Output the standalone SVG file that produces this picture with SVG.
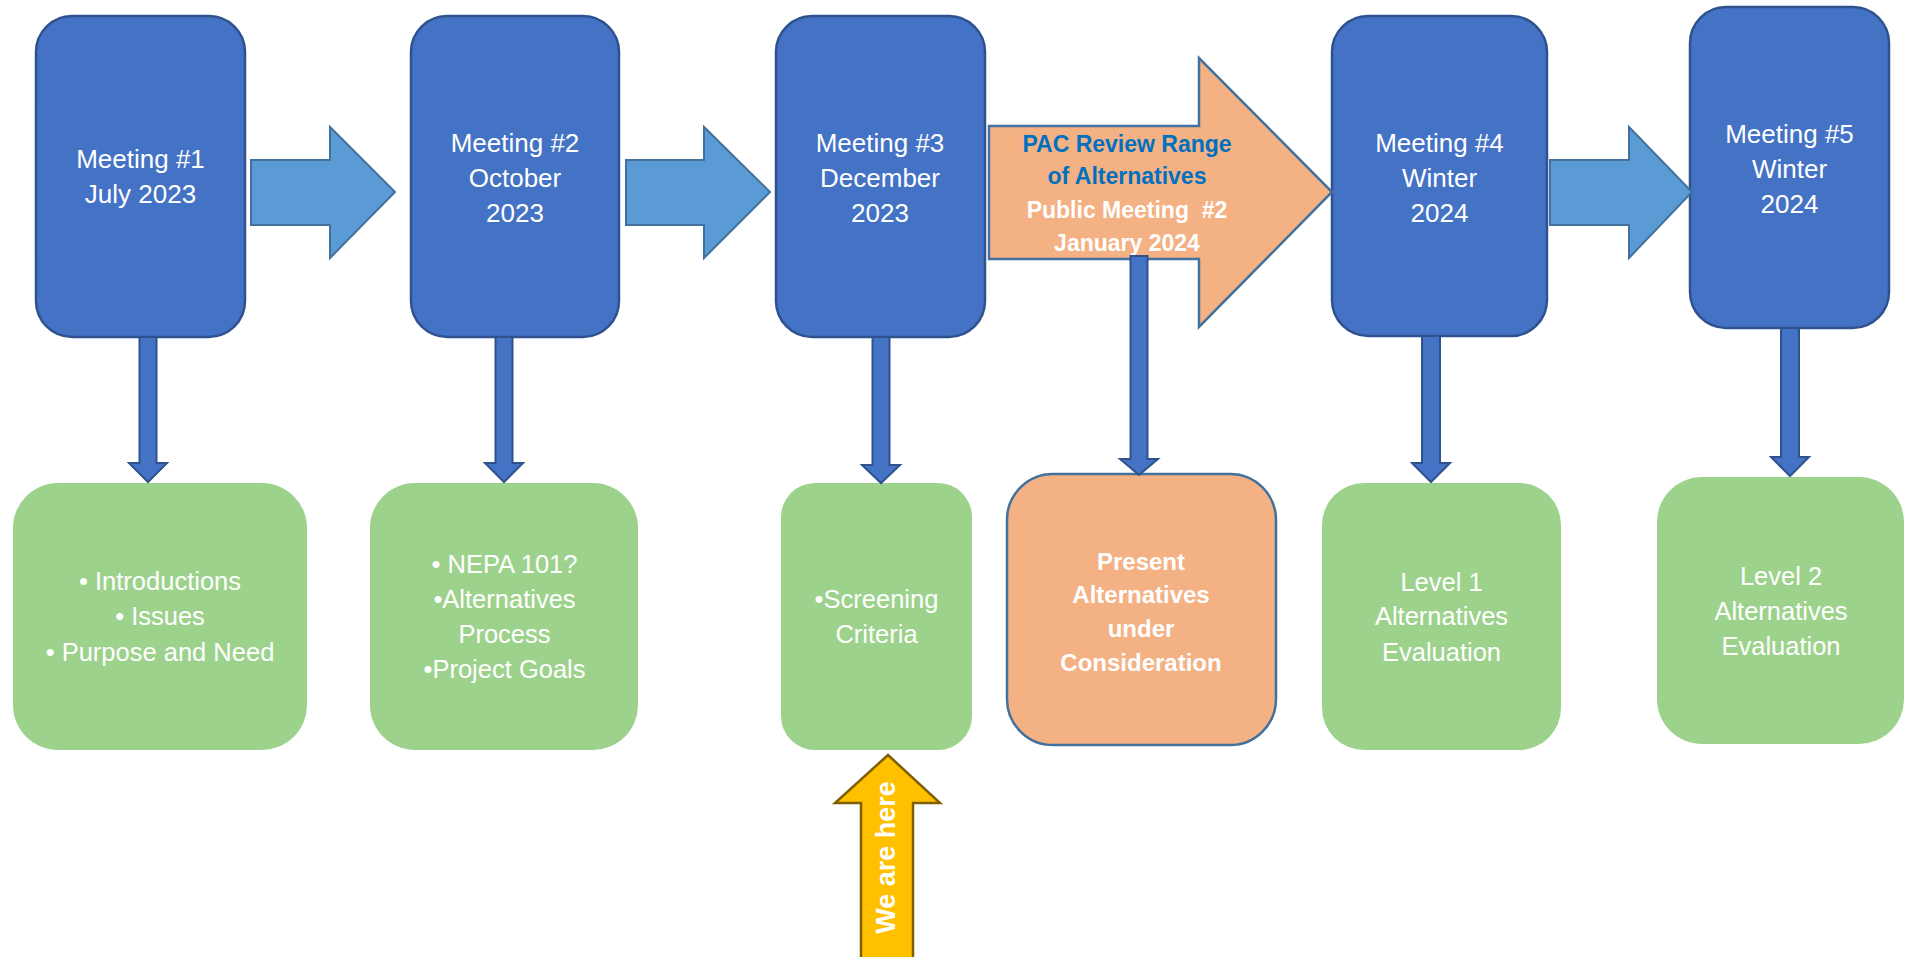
<svg xmlns="http://www.w3.org/2000/svg" width="1905" height="957" viewBox="0 0 1905 957">
  <style>
    .meeting { fill: #4472C4; stroke: #2F528F; stroke-width: 2.5; }
    .topic { fill: #9DD28C; }
    .orange { fill: #F4B183; stroke: #41719C; stroke-width: 2.5; }
    .flow { fill: #5B9BD5; stroke: #41719C; stroke-width: 2; stroke-linejoin: miter; }
    .drop { fill: #4472C4; stroke: #2F528F; stroke-width: 2; }
    .here { fill: #FFC000; stroke: #7F6000; stroke-width: 2.5; }
    text { font-family: "Liberation Sans", Arial, sans-serif; text-anchor: middle; fill: #FFFFFF; }
    .t-meet { font-size: 26px; }
    .t-topic { font-size: 25.5px; }
    .t-bold { font-size: 23px; font-weight: bold; }
    .t-pac { fill: #0070C0; }
    .t-here { font-size: 27px; font-weight: bold; }
  </style>

  <!-- Meeting boxes -->
  <g id="meeting-1">
    <rect class="meeting" x="36" y="16" width="209" height="321" rx="36"/>
    <text class="t-meet" x="140.5" y="168">Meeting #1</text>
    <text class="t-meet" x="140.5" y="203">July 2023</text>
  </g>
  <g id="meeting-2">
    <rect class="meeting" x="411" y="16" width="208" height="321" rx="36"/>
    <text class="t-meet" x="515" y="152">Meeting #2</text>
    <text class="t-meet" x="515" y="187">October</text>
    <text class="t-meet" x="515" y="222">2023</text>
  </g>
  <g id="meeting-3">
    <rect class="meeting" x="776" y="16" width="209" height="321" rx="36"/>
    <text class="t-meet" x="880" y="152">Meeting #3</text>
    <text class="t-meet" x="880" y="187">December</text>
    <text class="t-meet" x="880" y="222">2023</text>
  </g>
  <g id="meeting-4">
    <rect class="meeting" x="1332" y="16" width="215" height="320" rx="36"/>
    <text class="t-meet" x="1439.5" y="152">Meeting #4</text>
    <text class="t-meet" x="1439.5" y="187">Winter</text>
    <text class="t-meet" x="1439.5" y="222">2024</text>
  </g>
  <g id="meeting-5">
    <rect class="meeting" x="1690" y="7" width="199" height="321" rx="36"/>
    <text class="t-meet" x="1789.5" y="143">Meeting #5</text>
    <text class="t-meet" x="1789.5" y="178">Winter</text>
    <text class="t-meet" x="1789.5" y="213">2024</text>
  </g>

  <!-- PAC review step (large orange arrow) -->
  <g id="pac-review">
    <polygon class="orange" points="989,126 1199,126 1199,58 1332,192 1199,327 1199,259 989,259"/>
    <text class="t-bold t-pac" x="1127" y="152">PAC Review Range</text>
    <text class="t-bold t-pac" x="1127" y="184">of Alternatives</text>
    <text class="t-bold" x="1127" y="218">Public Meeting&#160; #2</text>
    <text class="t-bold" x="1127" y="251">January 2024</text>
  </g>

  <!-- Topic boxes -->
  <g id="topics-1">
    <rect class="topic" x="13" y="483" width="294" height="267" rx="45"/>
    <text class="t-topic" x="160" y="590">• Introductions</text>
    <text class="t-topic" x="160" y="625">• Issues</text>
    <text class="t-topic" x="160" y="661">• Purpose and Need</text>
  </g>
  <g id="topics-2">
    <rect class="topic" x="370" y="483" width="268" height="267" rx="45"/>
    <text class="t-topic" x="504.5" y="573">• NEPA 101?</text>
    <text class="t-topic" x="504.5" y="608">•Alternatives</text>
    <text class="t-topic" x="504.5" y="643">Process</text>
    <text class="t-topic" x="504.5" y="678">•Project Goals</text>
  </g>
  <g id="topics-3">
    <rect class="topic" x="781" y="483" width="191" height="267" rx="34"/>
    <text class="t-topic" x="876.5" y="608">•Screening</text>
    <text class="t-topic" x="876.5" y="643">Criteria</text>
  </g>
  <g id="present-alternatives">
    <rect class="orange" x="1007" y="474" width="269" height="271" rx="46"/>
    <text class="t-bold" x="1141" y="570" style="font-size:24px">Present</text>
    <text class="t-bold" x="1141" y="603" style="font-size:24px">Alternatives</text>
    <text class="t-bold" x="1141" y="637" style="font-size:24px">under</text>
    <text class="t-bold" x="1141" y="671" style="font-size:24px">Consideration</text>
  </g>
  <g id="topics-4">
    <rect class="topic" x="1322" y="483" width="239" height="267" rx="42"/>
    <text class="t-topic" x="1441.5" y="591">Level 1</text>
    <text class="t-topic" x="1441.5" y="625">Alternatives</text>
    <text class="t-topic" x="1441.5" y="661">Evaluation</text>
  </g>
  <g id="topics-5">
    <rect class="topic" x="1657" y="477" width="247" height="267" rx="45"/>
    <text class="t-topic" x="1781" y="585">Level 2</text>
    <text class="t-topic" x="1781" y="620">Alternatives</text>
    <text class="t-topic" x="1781" y="655">Evaluation</text>
  </g>

  <!-- Current position marker -->
  <g id="we-are-here">
    <polygon class="here" points="888,755 940,803 913,803 913,962 861,962 861,803 835,803"/>
    <text class="t-here" transform="translate(895,857.5) rotate(-90)" x="0" y="0">We are here</text>
  </g>

  <!-- Connectors -->
  <g id="connectors">
    <polygon class="flow" points="251,160 330,160 330,127 395,192 330,258 330,225 251,225"/>
    <polygon class="flow" points="626,160 704,160 704,127 770,192 704,258 704,225 626,225"/>
    <polygon class="flow" points="1550,160 1629,160 1629,127 1692,192 1629,258 1629,225 1550,225"/>

    <path class="drop" d="M139.5,337 H156.5 V463 H167 L148,482 L129,463 H139.5 Z"/>
    <path class="drop" d="M495.5,337 H512.5 V463 H523 L504,482 L485,463 H495.5 Z"/>
    <path class="drop" d="M872.5,337 H889.5 V465 H900 L881,483 L862,465 H872.5 Z"/>
    <path class="drop" d="M1130.5,256 H1147.5 V459 H1158 L1139,475 L1120,459 H1130.5 Z"/>
    <path class="drop" d="M1422,336 H1440 V463 H1450 L1431,482 L1412,463 H1422 Z"/>
    <path class="drop" d="M1781,328 H1799 V457 H1809 L1790,476 L1771,457 H1781 Z"/>
  </g>
</svg>
